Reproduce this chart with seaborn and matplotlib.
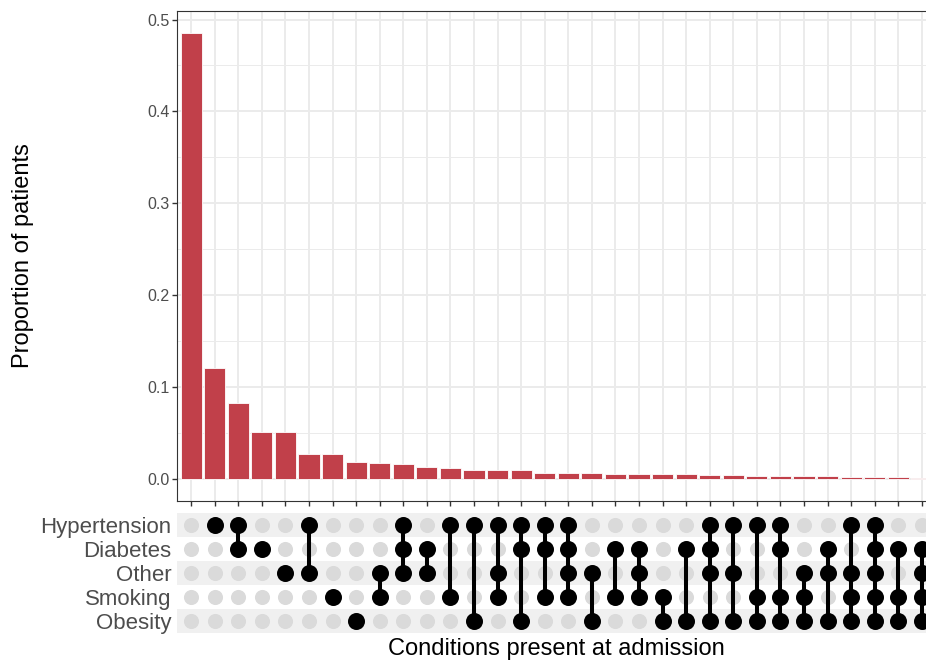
import matplotlib
matplotlib.use("Agg")
import matplotlib.pyplot as plt
from matplotlib.ticker import MultipleLocator
import numpy as np
import pandas as pd
import seaborn as sns

# conditions shown as matrix rows (top to bottom)
conditions = ["Hypertension", "Diabetes", "Other", "Smoking", "Obesity"]

# combination of conditions for each column, left to right
combos = [
    [],
    ["Hypertension"],
    ["Hypertension", "Diabetes"],
    ["Diabetes"],
    ["Other"],
    ["Hypertension", "Other"],
    ["Smoking"],
    ["Obesity"],
    ["Other", "Smoking"],
    ["Hypertension", "Diabetes", "Other"],
    ["Diabetes", "Other"],
    ["Hypertension", "Smoking"],
    ["Hypertension", "Obesity"],
    ["Hypertension", "Other", "Smoking"],
    ["Hypertension", "Diabetes", "Obesity"],
    ["Hypertension", "Diabetes", "Smoking"],
    ["Hypertension", "Diabetes", "Other", "Smoking"],
    ["Other", "Obesity"],
    ["Diabetes", "Smoking"],
    ["Diabetes", "Other", "Smoking"],
    ["Smoking", "Obesity"],
    ["Diabetes", "Obesity"],
    ["Hypertension", "Diabetes", "Other", "Obesity"],
    ["Hypertension", "Other", "Obesity"],
    ["Hypertension", "Smoking", "Obesity"],
    ["Hypertension", "Diabetes", "Smoking", "Obesity"],
    ["Other", "Smoking", "Obesity"],
    ["Diabetes", "Other", "Obesity"],
    ["Hypertension", "Other", "Smoking", "Obesity"],
    ["Hypertension", "Diabetes", "Other", "Smoking", "Obesity"],
    ["Diabetes", "Smoking", "Obesity"],
    ["Diabetes", "Other", "Smoking", "Obesity"],
]

# proportion of patients per combination
proportions = [
    0.485, 0.120, 0.082, 0.051, 0.051, 0.027, 0.027, 0.018,
    0.017, 0.016, 0.0125, 0.012, 0.010, 0.010, 0.009, 0.0065,
    0.0063, 0.0058, 0.0055, 0.0051, 0.0050, 0.0047, 0.0040, 0.0037,
    0.0033, 0.0030, 0.0027, 0.0026, 0.0022, 0.0018, 0.0015, 0.0012,
]

sns.set_style("white")
plt.rcParams['font.family'] = ['Liberation Sans', 'DejaVu Sans']

BAR_COLOR = "#C1404A"
GRID = "#EBEBEB"
TEXT_GREY = "#4D4D4D"

labels = ["&".join(c) if c else "none" for c in combos]
df_bar = pd.DataFrame({"combo": labels, "prop": proportions})

# long table for the matrix
rows = []
for i, c in enumerate(combos):
    for r, cond in enumerate(conditions):
        rows.append({"pos": i, "row": r, "member": cond in c})
df_mat = pd.DataFrame(rows)

W, H = 926, 662
fig = plt.figure(figsize=(W / 100, H / 100), dpi=100)
left, right = 177, 936
ax_bar = fig.add_axes([left / W, 1 - 501 / H, (right - left) / W, (501 - 11) / H])
ax_mat = fig.add_axes([left / W, 1 - 633 / H, (right - left) / W, 120 / H])

n = len(combos)
xlim = (-0.6, n - 1 + 0.6)

# --- bars ---
sns.barplot(data=df_bar, x="combo", y="prop", order=labels, color=BAR_COLOR,
            width=0.9, edgecolor="white", linewidth=0.6, saturation=1, ax=ax_bar)
ax_bar.set_xlim(*xlim)
ax_bar.set_ylim(-0.0243, 0.5093)
ax_bar.set_axisbelow(True)
ax_bar.yaxis.set_major_locator(MultipleLocator(0.1))
ax_bar.yaxis.set_minor_locator(MultipleLocator(0.05))
ax_bar.grid(which="major", color=GRID, lw=1.4)
ax_bar.grid(which="minor", axis="y", color=GRID, lw=0.7)
ax_bar.set_xticks(range(n))
ax_bar.set_xticklabels([])
ax_bar.set_xlabel("")
ax_bar.set_ylabel("Proportion of patients", fontsize=17, color="black")
ax_bar.yaxis.set_label_coords((34 - left) / (right - left), 0.5)
ax_bar.tick_params(axis="both", which="major", bottom=True, left=True,
                   length=3.5, width=1, color="#333333",
                   labelsize=11.5, labelcolor=TEXT_GREY, pad=2)
ax_bar.tick_params(axis="y", which="minor", length=0)
ax_bar.yaxis.set_major_formatter(matplotlib.ticker.FormatStrFormatter("%.1f"))
for s in ax_bar.spines.values():
    s.set_color("#333333")
    s.set_linewidth(0.8)

# --- matrix ---
ax_mat.set_xlim(*xlim)
ax_mat.set_ylim(len(conditions) - 0.5, -0.5)
for r in range(0, len(conditions), 2):
    ax_mat.axhspan(r - 0.5, r + 0.5, color="#F0F0F0", lw=0, zorder=0)

sns.scatterplot(data=df_mat[~df_mat["member"]], x="pos", y="row", color="#DADADA",
                s=118, linewidth=0, legend=False, ax=ax_mat, zorder=2)
for i, c in enumerate(combos):
    idx = [conditions.index(k) for k in c]
    if len(idx) > 1:
        ax_mat.vlines(i, min(idx), max(idx), color="black", lw=2.9, zorder=3)
sns.scatterplot(data=df_mat[df_mat["member"]], x="pos", y="row", color="black",
                s=150, linewidth=0, legend=False, ax=ax_mat, zorder=4)

ax_mat.set_yticks(range(len(conditions)))
ax_mat.set_yticklabels(conditions)
ax_mat.set_xticks([])
ax_mat.tick_params(axis="y", length=0, labelsize=16, labelcolor=TEXT_GREY, pad=4)
ax_mat.set_ylabel("")
ax_mat.set_xlabel("Conditions present at admission", fontsize=17, color="black")
ax_mat.xaxis.set_label_coords(0.5, -0.04)
for s in ax_mat.spines.values():
    s.set_visible(False)

fig.savefig("out.png", dpi=100)
